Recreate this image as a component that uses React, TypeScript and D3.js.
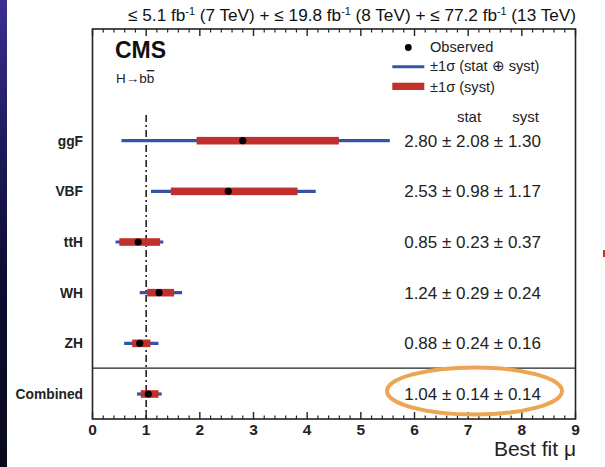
import React from "react";
import * as d3 from "d3";

const categories = ["ggF", "VBF", "ttH", "WH", "ZH", "Combined"];
const mu = [2.8, 2.53, 0.85, 1.24, 0.88, 1.04];
const totLo = [0.54, 1.09, 0.43, 0.88, 0.59, 0.83];
const totHi = [5.54, 4.16, 1.32, 1.67, 1.23, 1.29];
const systLo = [1.94, 1.46, 0.5, 1.02, 0.74, 0.9];
const systHi = [4.59, 3.82, 1.26, 1.52, 1.08, 1.23];
const muText = ["2.80", "2.53", "0.85", "1.24", "0.88", "1.04"];
const statText = ["2.08", "0.98", "0.23", "0.29", "0.24", "0.14"];
const systText = ["1.30", "1.17", "0.37", "0.24", "0.16", "0.14"];
const xTicks = [0, 1, 2, 3, 4, 5, 6, 7, 8, 9];

const FONT = "'Liberation Sans', Arial, Helvetica, sans-serif";
const BLUE = "#3853a6";
const RED = "#c2302c";

export default function App() {
  const W = 605, H = 467;
  const left = 92.5, right = 575.5, top = 29, bottom = 419;
  const x = d3.scaleLinear().domain([0, 9]).range([left, right]);
  const y = d3.scalePoint<string>().domain(categories).range([140.7, 394]);
  const minor = d3.range(0, 9.001, 0.2).filter((v) => Math.abs(v - Math.round(v)) > 1e-6);
  const dividerY = ((y("ZH") as number) + (y("Combined") as number)) / 2 - 0.5;

  return (
    <svg width={W} height={H} style={{ position: "absolute", left: 0, top: 0, background: "#fff" }} fontFamily={FONT}>
      <defs>
        <linearGradient id="strip" x1="0" y1="0" x2="0" y2="1">
          <stop offset="0" stopColor="#3b2e92" />
          <stop offset="0.3" stopColor="#1f1a5c" />
          <stop offset="0.6" stopColor="#0e0c32" />
          <stop offset="1" stopColor="#0a0a1c" />
        </linearGradient>
      </defs>
      <rect x={0} y={0} width={W} height={H} fill="#ffffff" />
      <rect x={0} y={0} width={7} height={H} fill="url(#strip)" />
      <rect x={603} y={250} width={2} height={7} fill={RED} />

      {/* title */}
      <text x={576} y={21} textAnchor="end" fontSize={17.2} fill="#111">
        <tspan>≤ 5.1 fb</tspan>
        <tspan fontSize={10.8} dy={-6.5}>-1</tspan>
        <tspan dy={6.5}> (7 TeV) + ≤ 19.8 fb</tspan>
        <tspan fontSize={10.8} dy={-6.5}>-1</tspan>
        <tspan dy={6.5}> (8 TeV) + ≤ 77.2 fb</tspan>
        <tspan fontSize={10.8} dy={-6.5}>-1</tspan>
        <tspan dy={6.5}> (13 TeV)</tspan>
      </text>

      {/* dash-dot line at mu = 1 */}
      <line x1={x(1)} x2={x(1)} y1={115} y2={bottom} stroke="#222" strokeWidth={1.6} strokeDasharray="7,3,2,3" />

      {/* bars */}
      {categories.map((c, i) => {
        const cy = y(c) as number;
        return (
          <g key={c}>
            <line x1={x(totLo[i])} x2={x(totHi[i])} y1={cy} y2={cy} stroke={BLUE} strokeWidth={3.2} />
            <rect x={x(systLo[i])} y={cy - 3.8} width={x(systHi[i]) - x(systLo[i])} height={7.6} fill={RED} />
            <circle cx={x(mu[i])} cy={cy} r={3.6} fill="#000" />
            <text x={83} y={cy + 5} textAnchor="end" fontSize={13.8} fontWeight="bold" fill="#222">{c}</text>
            <text x={541} y={cy + 6} textAnchor="end" fontSize={17} fill="#222">
              {`${muText[i]} ± ${statText[i]} ± ${systText[i]}`}
            </text>
          </g>
        );
      })}

      <text x={469} y={122} textAnchor="middle" fontSize={15} fill="#222">stat</text>
      <text x={525.5} y={122} textAnchor="middle" fontSize={15} fill="#222">syst</text>

      {/* frame */}
      <rect x={left} y={top} width={right - left} height={bottom - top} fill="none" stroke="#222" strokeWidth={1.6} />
      <line x1={left} x2={right} y1={dividerY} y2={dividerY} stroke="#222" strokeWidth={1.4} />

      {/* ticks */}
      {xTicks.map((t) => (
        <g key={`t${t}`}>
          <line x1={x(t)} x2={x(t)} y1={bottom} y2={bottom - 7} stroke="#222" strokeWidth={1.4} />
          <line x1={x(t)} x2={x(t)} y1={top} y2={top + 7} stroke="#222" strokeWidth={1.4} />
          <text x={x(t)} y={435} textAnchor="middle" fontSize={15.5} fontWeight="bold" fill="#222">{t}</text>
        </g>
      ))}
      {minor.map((t) => (
        <g key={`m${t.toFixed(1)}`}>
          <line x1={x(t)} x2={x(t)} y1={bottom} y2={bottom - 3.5} stroke="#222" strokeWidth={1.2} />
          <line x1={x(t)} x2={x(t)} y1={top} y2={top + 3.5} stroke="#222" strokeWidth={1.2} />
        </g>
      ))}
      <text x={576} y={456} textAnchor="end" fontSize={21} fill="#222">Best fit μ</text>

      {/* CMS label */}
      <text x={115} y={58} fontSize={23} fontWeight="bold" fill="#111">CMS</text>
      <text x={116} y={83} fontSize={13.5} fill="#222">H→b<tspan textDecoration="overline">b</tspan></text>

      {/* legend */}
      <circle cx={408.3} cy={47.5} r={3.4} fill="#000" />
      <text x={430} y={51.5} fontSize={14.6} fill="#222">Observed</text>
      <line x1={392.3} x2={424.3} y1={66.7} y2={66.7} stroke={BLUE} strokeWidth={3} />
      <text x={430} y={71} fontSize={14.6} fill="#222">±1σ (stat ⊕ syst)</text>
      <rect x={392.3} y={82.7} width={32} height={7.3} fill={RED} />
      <text x={430} y={91.5} fontSize={14.6} fill="#222">±1σ (syst)</text>

      {/* highlight ellipse */}
      <ellipse cx={474.5} cy={391} rx={87.5} ry={23.5} fill="none" stroke="#eda552" strokeWidth={4} />
    </svg>
  );
}
